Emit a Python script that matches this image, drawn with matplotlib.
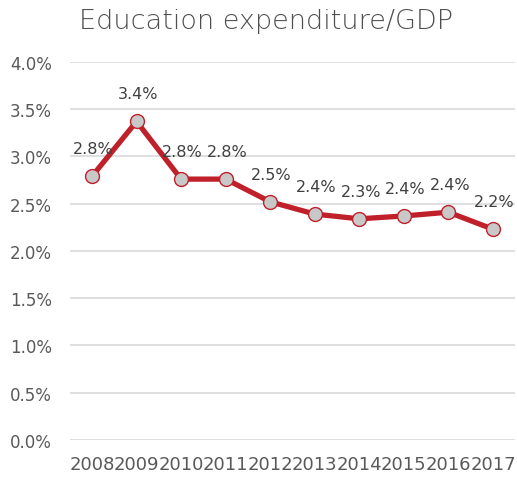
import matplotlib
matplotlib.use("Agg")
from matplotlib import pyplot as plt
from matplotlib.ticker import PercentFormatter

plt.rcParams["font.family"] = ["DejaVu Sans"]

years = ["2008", "2009", "2010", "2011", "2012", "2013", "2014", "2015", "2016", "2017"]
ratio = [2.79, 3.37, 2.76, 2.76, 2.52, 2.39, 2.34, 2.37, 2.41, 2.23]
y_ticks = [0.0, 0.5, 1.0, 1.5, 2.0, 2.5, 3.0, 3.5, 4.0]

red = "#C0202A"
gray_text = "#595959"

fig = plt.figure(figsize=(5.17, 4.81), dpi=100)
ax = fig.add_axes([0.1349, 0.0832, 0.8617, 0.786])

x = range(len(years))
ax.plot(x, ratio, color=red, linewidth=3.8, marker="o", markersize=10,
        markerfacecolor="#C8C8C8", markeredgecolor=red, markeredgewidth=1.0,
        solid_joinstyle="round", zorder=3)

for i, v in zip(x, ratio):
    ax.annotate(f"{v:.1f}%", (i, v), xytext=(1, 20), textcoords="offset points",
                ha="center", va="center", fontsize=11.5, color="#404040")

ax.set_xlim(-0.5, len(years) - 0.5)
ax.set_ylim(0, 4.0)
ax.set_xticks(list(x))
ax.set_xticklabels(years)
ax.set_yticks(y_ticks)
ax.yaxis.set_major_formatter(PercentFormatter(decimals=1))
ax.tick_params(axis="both", length=0, labelsize=12, labelcolor=gray_text)
ax.tick_params(axis="y", pad=13)
ax.tick_params(axis="x", pad=11, labelsize=13)
ax.grid(axis="y", color="#D9D9D9", linewidth=1.2)
ax.set_axisbelow(True)
for s in ax.spines.values():
    s.set_visible(False)

fig.text(0.515, 0.955, "Education expenditure/GDP", ha="center", va="center",
         fontsize=19.5, color="#4F4F4F", fontweight="light")

fig.savefig("out.png", dpi=100)
